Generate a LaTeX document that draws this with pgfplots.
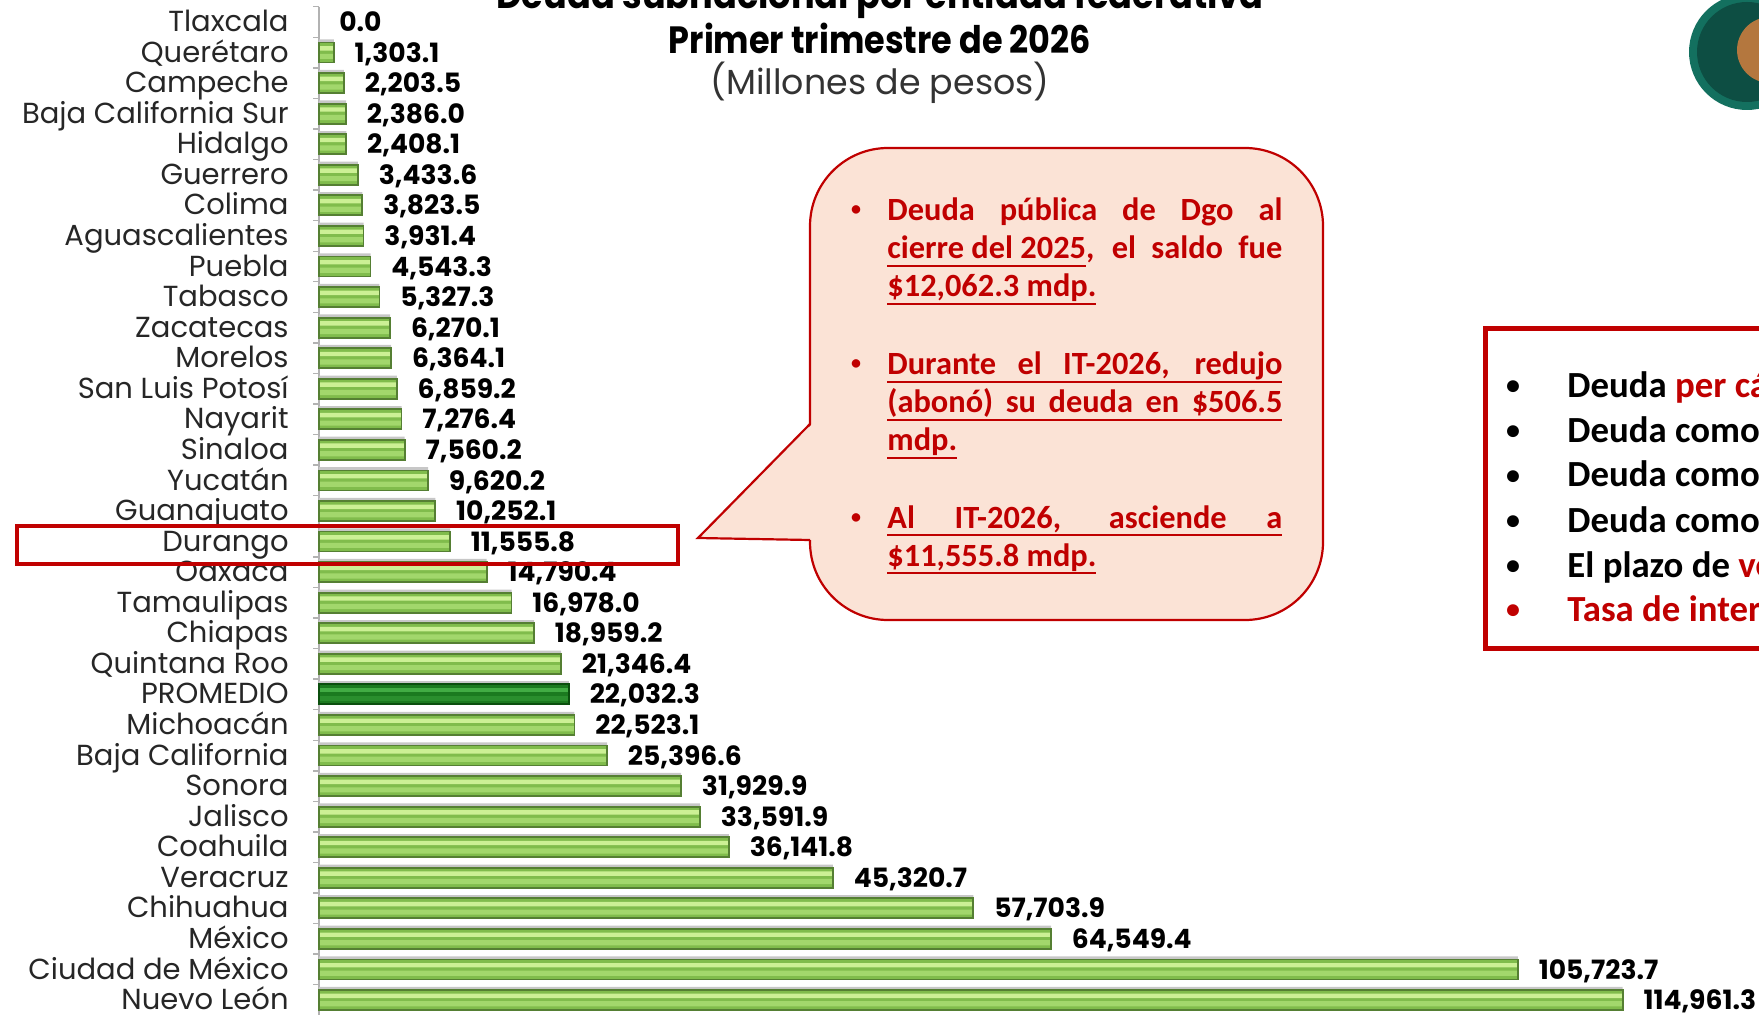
\documentclass[border=0pt]{standalone}
\usepackage{pgfplots}
\usepackage{pgfplotstable}
\pgfplotsset{compat=1.18}
\usepackage{fontspec}
\setmainfont{Poppins}
\newfontfamily\calfont{Carlito}
\definecolor{dred}{HTML}{C00000}
\definecolor{peach}{HTML}{FBE3D6}
\definecolor{gedge}{HTML}{557F33}
\definecolor{gbase}{HTML}{80BC4C}
\definecolor{gband}{HTML}{A2D76C}
\definecolor{gstripe}{HTML}{CCF095}
\definecolor{pedge}{HTML}{0B4F0E}
\definecolor{pbase}{HTML}{1B7A1F}
\definecolor{pband}{HTML}{2A8E2D}
\definecolor{pstripe}{HTML}{42AC44}
\definecolor{logoA}{HTML}{13705F}
\definecolor{logoB}{HTML}{B4773E}
\newcommand\ul[1]{\setbox0\hbox{#1}\rlap{\rule[-4.2pt]{\wd0}{1pt}}\box0}

\pgfplotstableread{
i v
1 1303.1
2 2203.5
3 2386.0
4 2408.1
5 3433.6
6 3823.5
7 3931.4
8 4543.3
9 5327.3
10 6270.1
11 6364.1
12 6859.2
13 7276.4
14 7560.2
15 9620.2
16 10252.1
17 11555.8
18 14790.4
19 16978.0
20 18959.2
21 21346.4
23 22523.1
24 25396.6
25 31929.9
26 33591.9
27 36141.8
28 45320.7
29 57703.9
30 64549.4
31 105723.7
32 114961.3
}\bars
\pgfplotstableread{
i v
22 22032.3
}\prom
\pgfplotstableread{
i v
0 0.0
}\zero

\pgfplotsset{
  valnodes/.style={nodes near coords={\pgfmathprintnumber[fixed,fixed zerofill,precision=1,1000 sep={,},assume math mode=true]{\pgfplotspointmeta}},
  nodes near coords style={font=\bfseries\fontsize{13.3}{15}\selectfont, anchor=base west, inner sep=0pt, xshift=10pt, yshift=-4.8pt, text=black}},
}

\begin{document}
\begin{tikzpicture}
\useasboundingbox (0,0) rectangle (879.5pt,-507.5pt);
\clip (0,0) rectangle (879.5pt,-507.5pt);
\begin{axis}[
  at={(159.5pt,-3.35pt)}, anchor=north west,
  scale only axis, width=680.4pt, height=504.3pt,
  xmin=0, xmax=120000, ymin=-0.5, ymax=32.5, y dir=reverse,
  hide x axis,
  axis y line*=left,
  y axis line style={draw=gray!60, line width=0.7pt},
  ytick={0,...,32},
  yticklabels={Tlaxcala,Querétaro,Campeche,Baja California Sur,Hidalgo,Guerrero,Colima,Aguascalientes,Puebla,Tabasco,Zacatecas,Morelos,San Luis Potosí,Nayarit,Sinaloa,Yucatán,Guanajuato,Durango,Oaxaca,Tamaulipas,Chiapas,Quintana Roo,PROMEDIO,Michoacán,Baja California,Sonora,Jalisco,Coahuila,Veracruz,Chihuahua,México,Ciudad de México,Nuevo León},
  major tick length=0pt,
  minor ytick={-0.5,0.5,...,32.5},
  minor tick length=3pt,
  tick align=outside,
  minor tick style={draw=gray!60, line width=0.7pt},
  yticklabel style={font=\fontsize{14.5}{16}\selectfont, text=black!85, inner sep=0pt, anchor=base east, xshift=-15pt, yshift=-4.8pt},
  clip=false,
  point meta=x,
]
% shadows
\addplot[xbar, bar width=10pt, bar shift=1.6pt, fill=black!22, draw=none] table[x=v,y=i]{\bars};
\addplot[xbar, bar width=10pt, bar shift=1.6pt, fill=black!22, draw=none] table[x=v,y=i]{\prom};
% base fills
\addplot[xbar, bar width=10pt, bar shift=0pt, fill=gbase, draw=none] table[x=v,y=i]{\bars};
\addplot[xbar, bar width=10pt, bar shift=0pt, fill=pbase, draw=none] table[x=v,y=i]{\prom};
% upper band
\addplot[xbar, bar width=2.6pt, bar shift=-1.9pt, fill=gband, draw=none] table[x=v,y=i]{\bars};
\addplot[xbar, bar width=2.6pt, bar shift=-1.9pt, fill=pband, draw=none] table[x=v,y=i]{\prom};
% lower highlight stripe
\addplot[xbar, bar width=2.2pt, bar shift=2.1pt, fill=gstripe, draw=none] table[x=v,y=i]{\bars};
\addplot[xbar, bar width=2.2pt, bar shift=2.1pt, fill=pstripe, draw=none] table[x=v,y=i]{\prom};
% outlines and values
\addplot[xbar, bar width=10pt, bar shift=0pt, fill=none, draw=gedge, line width=0.9pt, valnodes] table[x=v,y=i]{\bars};
\addplot[xbar, bar width=10pt, bar shift=0pt, fill=none, draw=pedge, line width=0.9pt, valnodes] table[x=v,y=i]{\prom};
\addplot[xbar, bar width=10pt, bar shift=0pt, draw=none, fill=none, valnodes] table[x=v,y=i]{\zero};
\end{axis}
\begin{scope}[x=0.5pt,y=-0.5pt]
% title
\node[anchor=base, font=\bfseries\fontsize{19}{22}\selectfont] at (880,9) {\scalebox{0.925}[1]{Deuda subnacional por entidad federativa}};
\node[anchor=base, font=\bfseries\fontsize{19}{22}\selectfont] at (880,54) {\scalebox{0.88}[1]{Primer trimestre de 2026}};
\node[anchor=base, font=\fontsize{17.4}{20}\selectfont, text=black!80] at (880,95) {(Millones de pesos)};
% logo
\fill[logoA] (1747,52) circle (58);
\fill[logoA!70!black] (1747,52) circle (50);
\fill[logoB] (1770,50) circle (33);
% Durango highlight
\draw[dred, line width=2.2pt] (17,526) rectangle (678,564);
% callout
\draw[dred, line width=1.1pt, fill=peach, rounded corners=39pt] (810,148) rectangle (1323,620);
\fill[peach] (812,424) -- (698,538) -- (812,540) -- cycle;
\draw[dred, line width=1.1pt, line join=miter] (810,424) -- (698,538) -- (810,540);
\begin{scope}[every node/.style={anchor=base west, inner sep=0pt, text=dred, font=\calfont\bfseries\fontsize{16.2}{19}\selectfont}]
\node[anchor=base, font=\calfont\bfseries\fontsize{10}{12}\selectfont] at (856,216) {•};
\node at (887,221) {\makebox[197.5pt][s]{Deuda pública de Dgo al}};
\node at (887,259) {\makebox[197.5pt][s]{\ul{cierre del 2025}, el saldo fue}};
\node at (887,297) {\ul{\$12,062.3 mdp.}};
\node[anchor=base, font=\calfont\bfseries\fontsize{10}{12}\selectfont] at (856,370) {•};
\node at (887,375) {\ul{\makebox[197.5pt][s]{Durante el IT-2026, redujo}}};
\node at (887,413) {\ul{\makebox[197.5pt][s]{(abonó) su deuda en \$506.5}}};
\node at (887,451) {\ul{mdp.}};
\node[anchor=base, font=\calfont\bfseries\fontsize{10}{12}\selectfont] at (856,523) {•};
\node at (887,528) {\ul{\makebox[197.5pt][s]{Al IT-2026, asciende a}}};
\node at (887,566) {\ul{\$11,555.8 mdp.}};
\end{scope}
% right box
\draw[dred, line width=2.5pt, fill=white] (1485,329) rectangle (1800,648);
\begin{scope}[every node/.style={anchor=base west, inner sep=0pt, text=black, font=\calfont\bfseries\fontsize{18.4}{21}\selectfont}]
\node[anchor=base, font=\calfont\bfseries\fontsize{14}{16}\selectfont] at (1513,395) {•};
\node at (1567,398) {Deuda \textcolor{dred}{per cápita}};
\node[anchor=base, font=\calfont\bfseries\fontsize{14}{16}\selectfont] at (1513,440) {•};
\node at (1567,443) {Deuda como};
\node[anchor=base, font=\calfont\bfseries\fontsize{14}{16}\selectfont] at (1513,484) {•};
\node at (1567,487) {Deuda como};
\node[anchor=base, font=\calfont\bfseries\fontsize{14}{16}\selectfont] at (1513,529) {•};
\node at (1567,532) {Deuda como};
\node[anchor=base, font=\calfont\bfseries\fontsize{14}{16}\selectfont] at (1513,574) {•};
\node at (1567,577) {El plazo de \textcolor{dred}{vencimiento}};
\node[anchor=base, text=dred, font=\calfont\bfseries\fontsize{14}{16}\selectfont] at (1513,618) {•};
\node[text=dred] at (1567,621) {Tasa de interés};
\end{scope}
\end{scope}
\end{tikzpicture}
\end{document}
